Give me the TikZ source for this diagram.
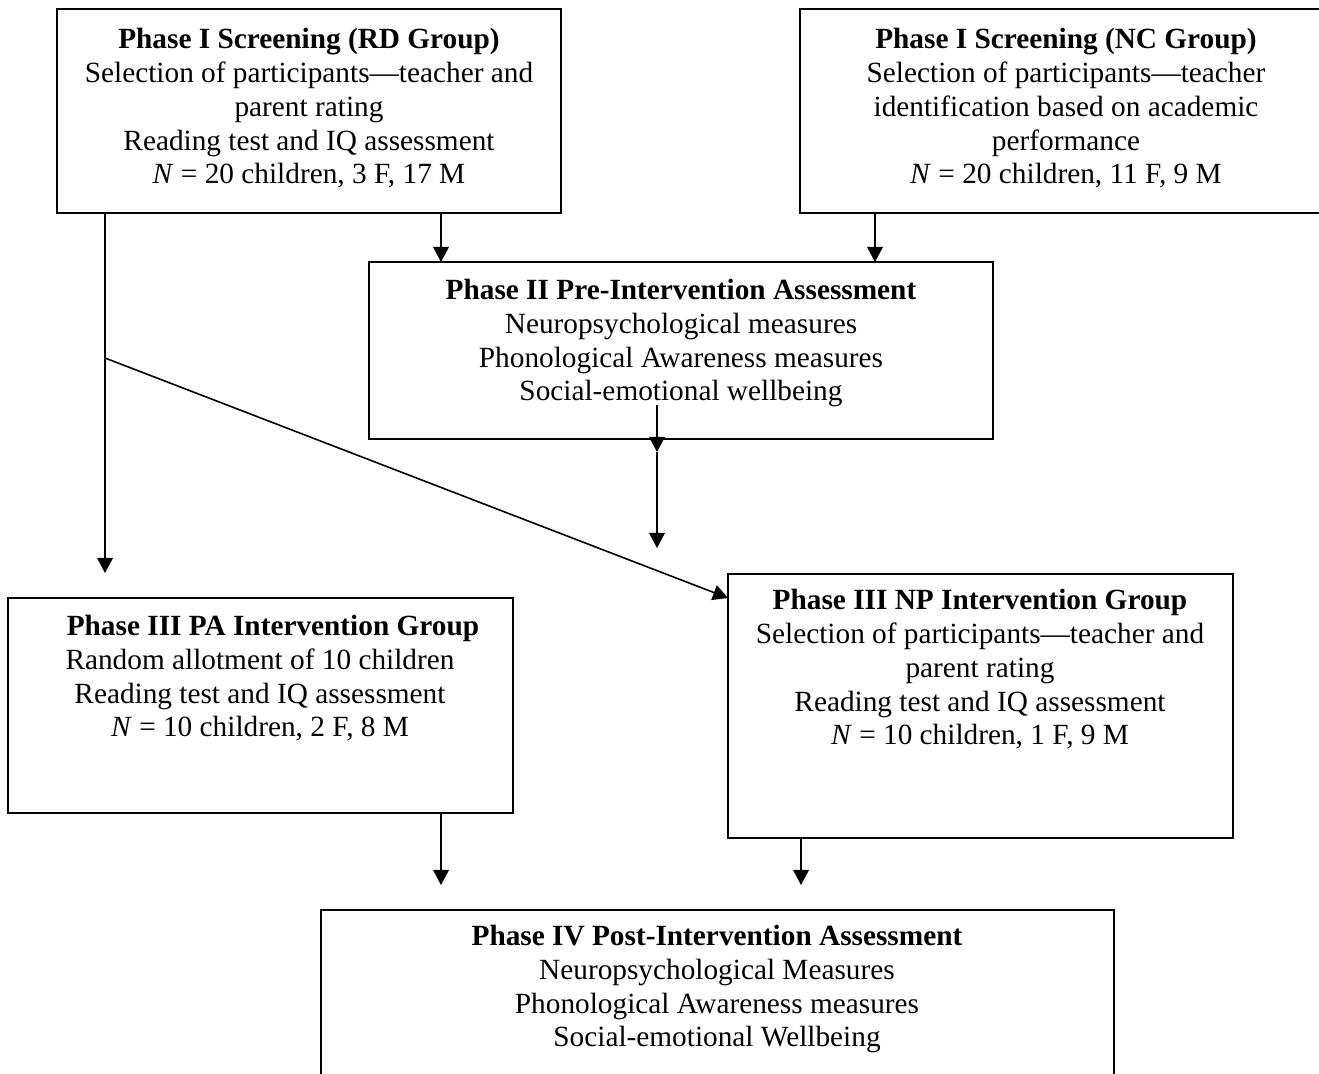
\documentclass[tikz,border=0pt]{standalone}
\usepackage{fontspec}
\setmainfont{Liberation Serif}
\usetikzlibrary{arrows.meta}
\tikzset{
  box/.style={draw, line width=1.1pt, rectangle, inner sep=0pt, outer sep=0pt},
  txt/.style={anchor=base, align=center, inner sep=0pt, font={\fontsize{14.65pt}{16.9pt}\selectfont}},
  arr/.style={line width=0.8pt, -{Triangle[length=7.5pt,width=7.8pt]}}
}
\begin{document}
\begin{tikzpicture}[x=0.5pt,y=-0.5pt]
\clip (0,0) rectangle (1319,1074);
% boxes
\node[box, minimum width=252pt, minimum height=102pt] (rd) at (309,111) {};
\node[box, minimum width=266pt, minimum height=102pt] (nc) at (1066,111) {};
\node[box, minimum width=312pt, minimum height=88.5pt] (p2) at (681,350.5) {};
\node[box, minimum width=252.5pt, minimum height=107.5pt] (pa) at (260.5,705.5) {};
\node[box, minimum width=252.5pt, minimum height=132pt] (np) at (980.5,706) {};
\node[box, minimum width=396.5pt, minimum height=100pt] (p4) at (717.5,1010) {};
% texts (anchored at the baseline of their last line)
\node[txt] (trd) at (309,184) {\textbf{Phase I Screening (RD Group)}\\Selection of participants—teacher and\\parent rating\\Reading test and IQ assessment\\\textit{N} = 20 children, 3 F, 17 M};
\node[txt] (tnc) at (1066,184) {\textbf{Phase I Screening (NC Group)}\\Selection of participants—teacher\\identification based on academic\\performance\\\textit{N} = 20 children, 11 F, 9 M};
\node[txt] (tp2) at (681,401) {\textbf{Phase II Pre-Intervention Assessment}\\Neuropsychological measures\\Phonological Awareness measures\\Social-emotional wellbeing};
\node[txt] (tpa) at (260,737) {\hspace*{13pt}\textbf{Phase III PA Intervention Group}\\Random allotment of 10 children\\Reading test and IQ assessment\\\textit{N} = 10 children, 2 F, 8 M};
\node[txt] (tnp) at (980,745) {\textbf{Phase III NP Intervention Group}\\Selection of participants—teacher and\\parent rating\\Reading test and IQ assessment\\\textit{N} = 10 children, 1 F, 9 M};
\node[txt] (tp4) at (717,1047) {\textbf{Phase IV Post-Intervention Assessment}\\Neuropsychological Measures\\Phonological Awareness measures\\Social-emotional Wellbeing};
% helper coordinates
\coordinate (xa) at (441,0);
\coordinate (xb) at (875,0);
\coordinate (xc) at (105,0);
\coordinate (xd) at (801,0);
\coordinate (branch) at (105,358);
\coordinate (paend) at (105,573);
\coordinate (npin) at (728,598);
\coordinate (p2in) at (657,405);
\coordinate (p2tip) at (657,452);
\coordinate (p2end) at (657,548);
\coordinate (p4a) at (441,885);
\coordinate (p4b) at (801,885);
% connectors
\draw[arr] (rd.south -| xa) -- (p2.north -| xa);
\draw[arr] (nc.south -| xb) -- (p2.north -| xb);
\draw[arr] (rd.south -| xc) -- (paend);
\draw[arr] (branch) -- (npin);
\draw[arr] (p2in) -- (p2tip);
\draw[arr] (p2tip) -- (p2end);
\draw[arr] (pa.south -| xa) -- (p4a);
\draw[arr] (np.south -| xd) -- (p4b);
\end{tikzpicture}
\end{document}
